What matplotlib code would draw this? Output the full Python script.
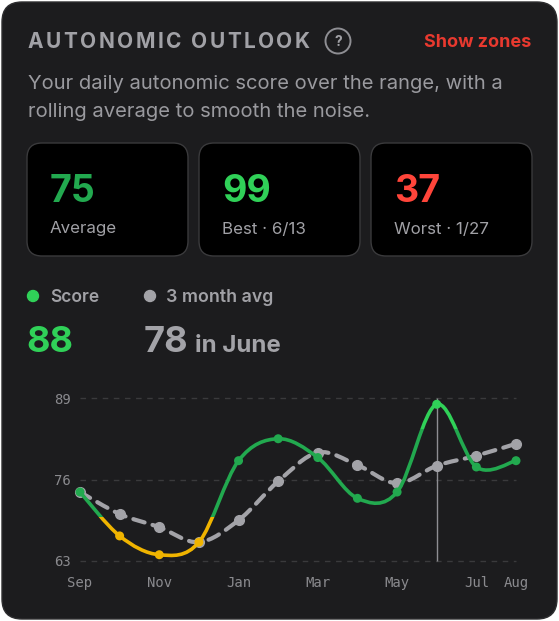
import matplotlib
matplotlib.use('Agg')
import matplotlib.pyplot as plt
import numpy as np
from matplotlib.patches import FancyBboxPatch, Rectangle, Circle, PathPatch
from matplotlib.path import Path

# data
months = ["Sep", "Oct", "Nov", "Dec", "Jan", "Feb", "Mar", "Apr", "May", "Jun", "Jul", "Aug"]
score = [74, 67, 64, 66, 79, 82.5, 79.5, 73, 74, 88, 78, 79]
avg_3m = [74, 70.5, 68.4, 66, 69.5, 75.7, 80.3, 78.3, 75.4, 78.2, 79.8, 81.7]
tick_months = ["Sep", "Nov", "Jan", "Mar", "May", "Jul", "Aug"]
y_ticks = [63, 76, 89]
stat_values = ["75", "99", "37"]
stat_labels = ["Average", "Best · 6/13", "Worst · 1/27"]
current_score = "88"
current_avg = "78"
current_month = "June"
low_zone = 70
high_zone = 84

W, H = 559, 621
BG = "#1c1c1e"
GRAY = "#a1a1a6"
GREEN = "#22a94f"
GREEN_HI = "#30d158"
YELLOW = "#f0b400"
RED = "#ff453a"
AVG_GRAY = "#a3a3a8"
FONT = "Inter"

fig = plt.figure(figsize=(W / 100, H / 100), dpi=100)
fig.patch.set_facecolor("white")
bg = fig.add_axes([0, 0, 1, 1])
bg.set_xlim(0, W)
bg.set_ylim(H, 0)
bg.axis("off")

# card
bg.add_patch(FancyBboxPatch((2, 2), W - 4, H - 4, boxstyle="round,pad=0,rounding_size=20",
                            facecolor=BG, edgecolor="#2e2e30", lw=1))

renderer = fig.canvas.get_renderer()


def text_width(s, size, weight):
    t = bg.text(0, 0, s, fontsize=size, fontweight=weight, family=FONT)
    w = t.get_window_extent(renderer).width
    t.remove()
    return w


def spaced_text(x, y, s, size, weight, color, spacing):
    ref = text_width("II", size, weight)
    for ch in s:
        bg.text(x, y, ch, fontsize=size, fontweight=weight, family=FONT, color=color, va="baseline")
        x += text_width("I" + ch + "I", size, weight) - ref + spacing


# header
spaced_text(28, 48, "AUTONOMIC OUTLOOK", 15, "bold", GRAY, 2.45)
bg.add_patch(Circle((338, 41), 12.5, facecolor="none", edgecolor="#8e8e93", lw=1.4))
bg.text(338, 41.5, "?", fontsize=10, fontweight="bold", family=FONT, color=GRAY, ha="center", va="center")
bg.text(531, 47, "Show zones", fontsize=13, fontweight="bold", family=FONT, color="#e8392f",
        ha="right", va="baseline")

bg.text(28, 89, "Your daily autonomic score over the range, with a", fontsize=14.55, family=FONT,
        color="#9a9a9f", va="baseline")
bg.text(28, 117, "rolling average to smooth the noise.", fontsize=14.55, family=FONT,
        color="#9a9a9f", va="baseline")

# stat boxes
box_x = [27, 199, 371]
stat_colors = [GREEN, GREEN_HI, RED]
for bx, val, lab, col in zip(box_x, stat_values, stat_labels, stat_colors):
    bg.add_patch(FancyBboxPatch((bx, 143), 161, 113, boxstyle="round,pad=0,rounding_size=15",
                                facecolor="black", edgecolor="#3a3a3c", lw=1))
    bg.text(bx + 23, 202.5, val, fontsize=27, fontweight="bold", family=FONT, color=col, va="baseline")
    bg.text(bx + 23, 233.5, lab, fontsize=12.2, family=FONT, color=GRAY, va="baseline")

# legend + current values
bg.add_patch(Circle((33, 296), 5.5, color=GREEN_HI))
bg.text(50, 302.5, "Score", fontsize=12.5, fontweight="semibold", family=FONT, color=GRAY, va="baseline")
bg.add_patch(Circle((150, 296), 5.5, color=AVG_GRAY))
bg.text(166, 302.5, "3 month avg", fontsize=12.8, fontweight="semibold", family=FONT, color=GRAY,
        va="baseline")
bg.text(26, 352, current_score, fontsize=26, fontweight="bold", family=FONT, color=GREEN_HI, va="baseline")
bg.text(144, 352, current_avg, fontsize=26, fontweight="bold", family=FONT, color=AVG_GRAY, va="baseline")
bg.text(195, 352, "in " + current_month, fontsize=17.3, fontweight="bold", family=FONT, color=AVG_GRAY,
        va="baseline")

# chart axes (pixel placement)
px_month = (516 - 80) / 11
px_unit = (561 - 398) / 26
ax_l, ax_r, ax_t, ax_b = 76, 520, 385, 566
ax = fig.add_axes([ax_l / W, 1 - ax_b / H, (ax_r - ax_l) / W, (ax_b - ax_t) / H])
ax.set_facecolor("none")
ax.set_xlim(-(80 - ax_l) / px_month, 11 + (ax_r - 516) / px_month)
ax.set_ylim(63 - (ax_b - 561) / px_unit, 89 + (398 - ax_t) / px_unit)
for s in ax.spines.values():
    s.set_visible(False)

x = np.arange(len(months))
ax.hlines(y_ticks, 0, 11, colors="#3a3a3c", lw=1, linestyles=(0, (4, 4)))
ax.set_yticks(y_ticks)
ax.set_yticklabels([str(v) for v in y_ticks])
ax.set_xticks([months.index(m) for m in tick_months])
ax.set_xticklabels(tick_months)
ax.tick_params(length=0, colors="#8a8a8e", labelsize=10, pad=4)
ax.tick_params(axis="x", pad=7)
for lab in ax.get_xticklabels() + ax.get_yticklabels():
    lab.set_family("DejaVu Sans Mono")


def catmull_path(xs, ys):
    pts = np.column_stack([xs, ys]).astype(float)
    ext = np.vstack([pts[0], pts, pts[-1]])
    verts = [pts[0]]
    codes = [Path.MOVETO]
    for i in range(1, len(ext) - 2):
        p0, p1, p2, p3 = ext[i - 1], ext[i], ext[i + 1], ext[i + 2]
        verts += [p1 + (p2 - p0) / 6, p2 - (p3 - p1) / 6, p2]
        codes += [Path.CURVE4] * 3
    return Path(verts, codes)


# vertical marker at current month
cur = months.index(current_month[:3])
ax.vlines(cur, 63, 89, colors="#8e8e93", lw=1, zorder=2)

# 3 month avg (dashed)
avg_patch = PathPatch(catmull_path(x, avg_3m), facecolor="none", edgecolor=AVG_GRAY, lw=3,
                      linestyle=(0, (2.8, 2.0)), capstyle="round", zorder=3)
ax.add_patch(avg_patch)
ax.plot(x, avg_3m, "o", color=AVG_GRAY, ms=7, zorder=4, clip_on=False)

# score line, coloured by zone
score_path = catmull_path(x, score)
zones = [(50, low_zone, YELLOW), (low_zone, high_zone, GREEN), (high_zone, 100, GREEN_HI)]
for lo, hi, col in zones:
    p = PathPatch(score_path, facecolor="none", edgecolor=col, lw=2.6, capstyle="round", zorder=5)
    ax.add_patch(p)
    p.set_clip_path(Rectangle((-1, lo), 13, hi - lo, transform=ax.transData))

pt_colors = [YELLOW if v < low_zone else (GREEN_HI if v >= high_zone else GREEN) for v in score]
ax.scatter(x, score, s=42, c=pt_colors, zorder=6, clip_on=False, linewidths=0)

fig.savefig("out.png", dpi=100, facecolor="white")
